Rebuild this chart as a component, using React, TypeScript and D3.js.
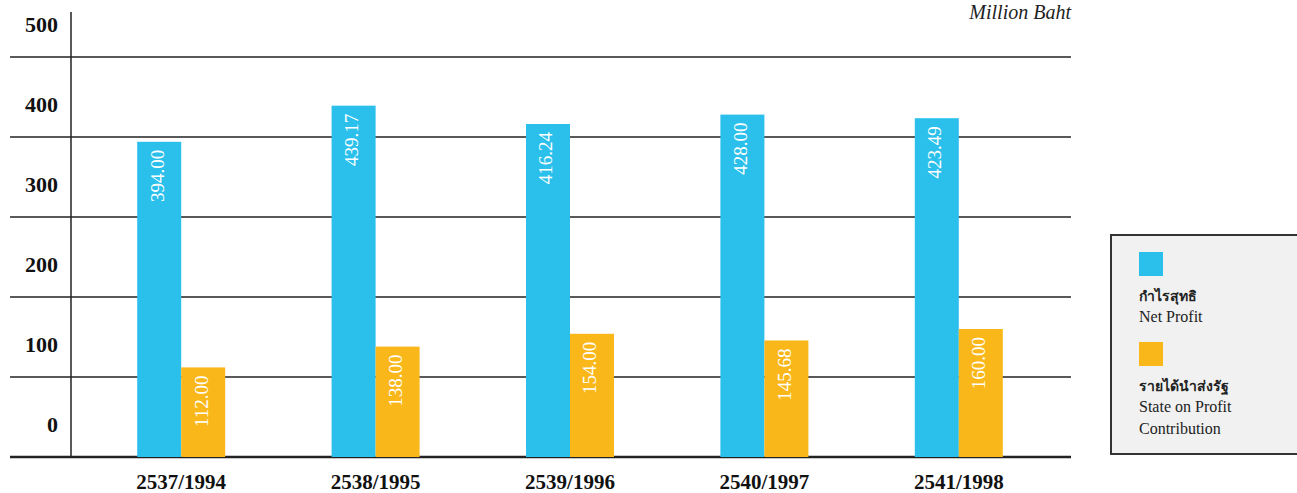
import React from "react";
import * as d3 from "d3";

const categories = ["2537/1994", "2538/1995", "2539/1996", "2540/1997", "2541/1998"];
const netProfit = [394.0, 439.17, 416.24, 428.0, 423.49];
const stateContribution = [112.0, 138.0, 154.0, 145.68, 160.0];
const yTicks = [0, 100, 200, 300, 400, 500];
const seriesNames = [
  { th: "กำไรสุทธิ", en: ["Net Profit"] },
  { th: "รายได้นำส่งรัฐ", en: ["State on Profit", "Contribution"] },
];
const colors = ["#2BBFEB", "#FAB71A"];

const W = 1297;
const H = 493;
const serif = "'Liberation Serif', 'Times New Roman', serif";

export default function App() {
  const x = d3.scaleBand<string>().domain(categories).range([84, 1056]);
  const y = d3.scaleLinear().domain([0, 500]).range([457, 57]);
  const barW = 44;
  const series = [netProfit, stateContribution];

  return (
    <svg
      width={W}
      height={H}
      style={{ position: "absolute", left: 0, top: 0, background: "#fff" }}
    >
      {/* gridlines */}
      {yTicks.map((t) => (
        <line
          key={"g" + t}
          x1={10}
          x2={1071}
          y1={y(t)}
          y2={y(t)}
          stroke="#222"
          strokeWidth={t === 0 ? 2.5 : 1.5}
        />
      ))}
      {/* y axis line */}
      <line x1={71} x2={71} y1={12} y2={y(0)} stroke="#222" strokeWidth={1.5} />
      {/* y tick labels (placed between gridlines) */}
      {yTicks.map((t) => (
        <text
          key={"t" + t}
          x={58}
          y={y(t) - 30}
          textAnchor="end"
          dominantBaseline="middle"
          fontFamily={serif}
          fontWeight="bold"
          fontSize={22}
          fill="#111"
        >
          {t}
        </text>
      ))}
      {/* units */}
      <text
        x={1071}
        y={19}
        textAnchor="end"
        fontFamily={serif}
        fontStyle="italic"
        fontSize={20}
        fill="#222"
      >
        Million Baht
      </text>
      {/* bars */}
      {categories.map((c, i) => {
        const cx = (x(c) as number) + x.bandwidth() / 2;
        return (
          <g key={c}>
            {series.map((s, k) => {
              const bx = cx - barW + k * barW;
              const top = y(s[i]);
              const lx = bx + barW / 2;
              const ly = top + 8;
              return (
                <g key={k}>
                  <rect
                    x={bx}
                    y={top}
                    width={barW}
                    height={y(0) - top}
                    fill={colors[k]}
                  />
                  <text
                    transform={`translate(${lx},${ly}) rotate(-90)`}
                    textAnchor="end"
                    dominantBaseline="middle"
                    fontFamily={serif}
                    fontSize={19}
                    fill="#fff"
                  >
                    {s[i].toFixed(2)}
                  </text>
                </g>
              );
            })}
            <text
              x={cx}
              y={489}
              textAnchor="middle"
              fontFamily={serif}
              fontWeight="bold"
              fontSize={21}
              fill="#111"
            >
              {c}
            </text>
          </g>
        );
      })}
      {/* legend */}
      <rect
        x={1111}
        y={235}
        width={200}
        height={219}
        fill="#f1f1f1"
        stroke="#333"
        strokeWidth={2}
      />
      {seriesNames.map((s, k) => {
        const top = 252 + k * 90;
        return (
          <g key={"l" + k}>
            <rect x={1139} y={top} width={24} height={24} fill={colors[k]} />
            <text
              x={1139}
              y={top + 49}
              fontFamily="'Noto Sans', 'DejaVu Sans', sans-serif"
              fontSize={14}
              fontWeight="bold"
              fill="#222"
            >
              {s.th}
            </text>
            {s.en.map((line, j) => (
              <text
                key={j}
                x={1139}
                y={top + 70 + j * 22}
                fontFamily={serif}
                fontSize={16}
                fill="#222"
              >
                {line}
              </text>
            ))}
          </g>
        );
      })}
    </svg>
  );
}
